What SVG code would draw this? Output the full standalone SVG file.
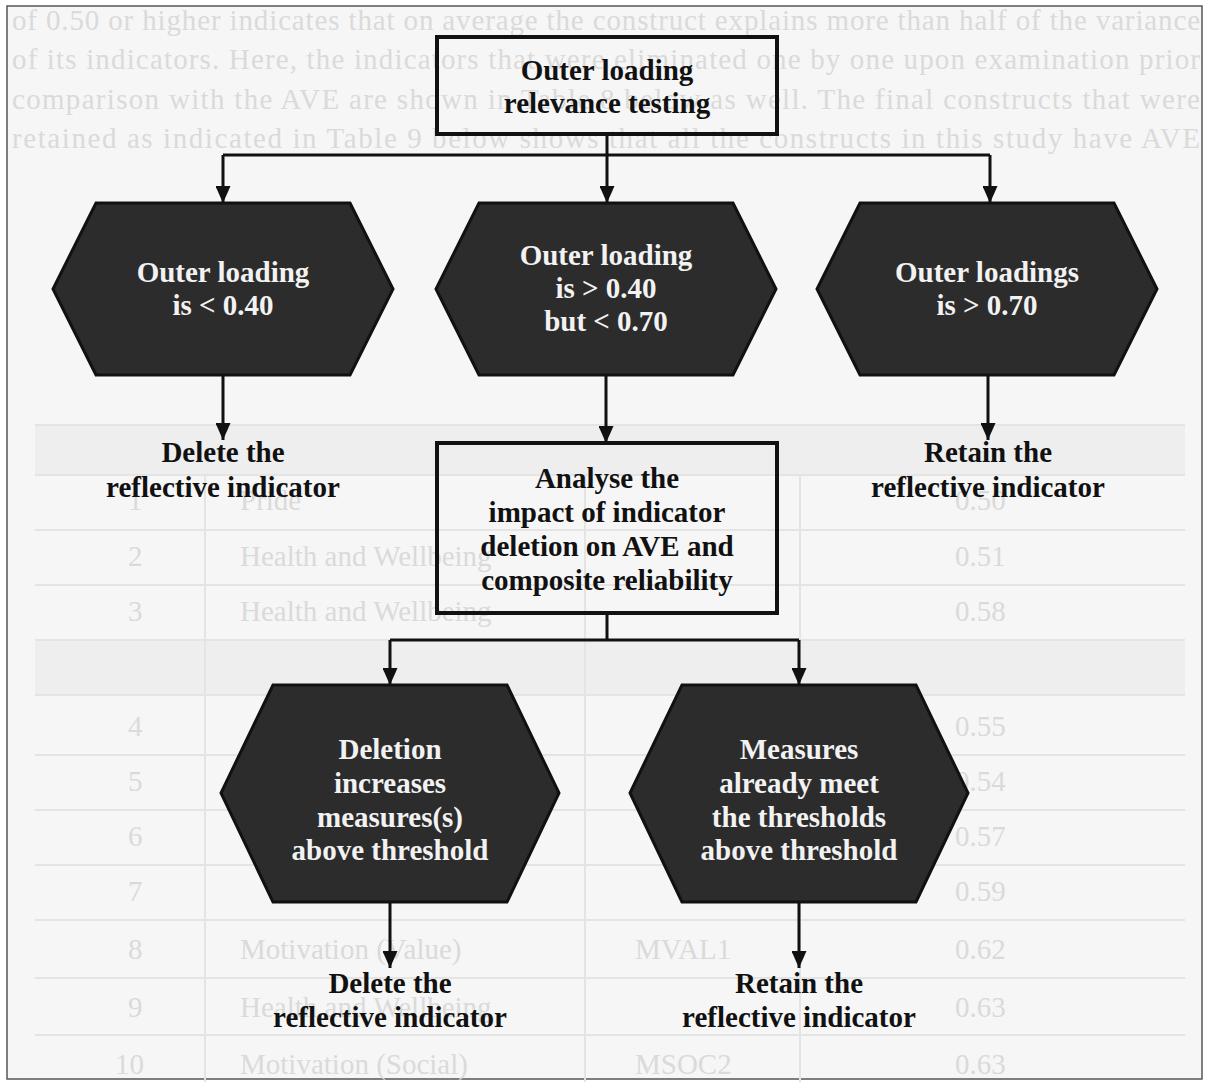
<svg xmlns="http://www.w3.org/2000/svg" width="1207" height="1082" viewBox="0 0 1207 1082">
  <style>
    .ghost { font-family: "Liberation Serif", "Times New Roman", serif; font-size: 29px; fill: #dadada; }
    .rule { stroke: #e4e4e4; stroke-width: 2; fill: none; }
    .lbl { font-family: "Liberation Serif", "Times New Roman", serif; font-size: 29px; font-weight: bold; fill: #111; text-anchor: middle; }
    .inv { font-family: "Liberation Serif", "Times New Roman", serif; font-size: 29px; font-weight: bold; fill: #f2f2f2; text-anchor: middle; }
    .box { fill: none; stroke: #111; stroke-width: 4; }
    .hex { fill: #2c2c2c; stroke: #111; stroke-width: 3; stroke-linejoin: miter; }
    .wire { fill: none; stroke: #111; stroke-width: 3; }
  </style>
  <defs>
    <marker id="head" markerUnits="userSpaceOnUse" markerWidth="17" markerHeight="15" refX="17" refY="7.5" orient="auto" viewBox="0 0 17 15">
      <path d="M0,0 L17,7.5 L0,15 z" fill="#111"/>
    </marker>
  </defs>

  <!-- page background and frame -->
  <rect x="0" y="0" width="1207" height="1082" fill="#ffffff"/>
  <rect x="7" y="6" width="1195" height="1073" fill="#f6f6f6" stroke="#555" stroke-width="1.5"/>

  <!-- faint show-through of the printed page behind the figure -->
  <g id="show-through">
    <text class="ghost" x="12" y="30" textLength="1188" lengthAdjust="spacing">of 0.50 or higher indicates that on average the construct explains more than half of the variance</text>
    <text class="ghost" x="12" y="69" textLength="1188" lengthAdjust="spacing">of its indicators. Here, the indicators that were eliminated one by one upon examination prior</text>
    <text class="ghost" x="12" y="109" textLength="1188" lengthAdjust="spacing">comparison with the AVE are shown in Table 8 below as well. The final constructs that were</text>
    <text class="ghost" x="12" y="148" textLength="1188" lengthAdjust="spacing">retained as indicated in Table 9 below shows that all the constructs in this study have AVE</text>
    <rect x="35" y="425" width="1150" height="50" fill="#eeeeee"/>
    <rect x="35" y="640" width="1150" height="55" fill="#eeeeee"/>
    <path class="rule" d="M35,425 H1185 M35,475 H1185 M35,530 H1185 M35,585 H1185 M35,640 H1185 M35,695 H1185 M35,755 H1185 M35,810 H1185 M35,865 H1185 M35,920 H1185 M35,978 H1185 M35,1035 H1185 M205,475 V1082 M585,475 V1082 M800,475 V1082"/>
    <text class="ghost" x="128" y="510">1</text>
    <text class="ghost" x="240" y="510">Pride</text>
    <text class="ghost" x="955" y="510">0.50</text>
    <text class="ghost" x="128" y="566">2</text>
    <text class="ghost" x="240" y="566">Health and Wellbeing</text>
    <text class="ghost" x="955" y="566">0.51</text>
    <text class="ghost" x="128" y="621">3</text>
    <text class="ghost" x="240" y="621">Health and Wellbeing</text>
    <text class="ghost" x="955" y="621">0.58</text>
    <text class="ghost" x="128" y="736">4</text>
    <text class="ghost" x="955" y="736">0.55</text>
    <text class="ghost" x="128" y="791">5</text>
    <text class="ghost" x="955" y="791">0.54</text>
    <text class="ghost" x="128" y="846">6</text>
    <text class="ghost" x="955" y="846">0.57</text>
    <text class="ghost" x="128" y="901">7</text>
    <text class="ghost" x="955" y="901">0.59</text>
    <text class="ghost" x="128" y="959">8</text>
    <text class="ghost" x="240" y="959">Motivation (Value)</text>
    <text class="ghost" x="635" y="959">MVAL1</text>
    <text class="ghost" x="955" y="959">0.62</text>
    <text class="ghost" x="128" y="1017">9</text>
    <text class="ghost" x="240" y="1017">Health and Wellbeing</text>
    <text class="ghost" x="955" y="1017">0.63</text>
    <text class="ghost" x="115" y="1074">10</text>
    <text class="ghost" x="240" y="1074">Motivation (Social)</text>
    <text class="ghost" x="635" y="1074">MSOC2</text>
    <text class="ghost" x="955" y="1074">0.63</text>
  </g>

  <!-- connectors -->
  <g id="connectors">
    <path class="wire" d="M607,135 V155 M223,155 H990"/>
    <path class="wire" d="M223,155 V203" marker-end="url(#head)"/>
    <path class="wire" d="M607,155 V203" marker-end="url(#head)"/>
    <path class="wire" d="M990,155 V203" marker-end="url(#head)"/>
    <path class="wire" d="M223,375 V440" marker-end="url(#head)"/>
    <path class="wire" d="M606,375 V443" marker-end="url(#head)"/>
    <path class="wire" d="M988,375 V440" marker-end="url(#head)"/>
    <path class="wire" d="M607,613 V640 M390,640 H799"/>
    <path class="wire" d="M390,640 V685" marker-end="url(#head)"/>
    <path class="wire" d="M799,640 V685" marker-end="url(#head)"/>
    <path class="wire" d="M390,902 V968" marker-end="url(#head)"/>
    <path class="wire" d="M799,902 V968" marker-end="url(#head)"/>
  </g>

  <!-- start box -->
  <g id="relevance-testing">
    <rect class="box" x="437" y="37" width="340" height="97"/>
    <text class="lbl" x="607" y="80">Outer loading</text>
    <text class="lbl" x="607" y="113">relevance testing</text>
  </g>

  <!-- loading range decisions -->
  <g id="below-040">
    <polygon class="hex" points="96,203 350,203 393,289 350,375 96,375 53,289"/>
    <text class="inv" x="223" y="282">Outer loading</text>
    <text class="inv" x="223" y="315">is &lt; 0.40</text>
  </g>
  <g id="between-040-070">
    <polygon class="hex" points="479,203 733,203 776,289 733,375 479,375 436,289"/>
    <text class="inv" x="606" y="265">Outer loading</text>
    <text class="inv" x="606" y="298">is &gt; 0.40</text>
    <text class="inv" x="606" y="331">but &lt; 0.70</text>
  </g>
  <g id="above-070">
    <polygon class="hex" points="860,203 1114,203 1157,289 1114,375 860,375 817,289"/>
    <text class="inv" x="987" y="282">Outer loadings</text>
    <text class="inv" x="987" y="315">is &gt; 0.70</text>
  </g>

  <!-- outcomes of the first split -->
  <g id="delete-first">
    <text class="lbl" x="223" y="462">Delete the</text>
    <text class="lbl" x="223" y="497">reflective indicator</text>
  </g>
  <g id="retain-first">
    <text class="lbl" x="988" y="462">Retain the</text>
    <text class="lbl" x="988" y="497">reflective indicator</text>
  </g>

  <!-- impact analysis -->
  <g id="analyse-impact">
    <rect class="box" x="437" y="443" width="340" height="170"/>
    <text class="lbl" x="607" y="488">Analyse the</text>
    <text class="lbl" x="607" y="522">impact of indicator</text>
    <text class="lbl" x="607" y="556">deletion on AVE and</text>
    <text class="lbl" x="607" y="590">composite reliability</text>
  </g>

  <!-- second split -->
  <g id="deletion-increases">
    <polygon class="hex" points="273,685 507,685 559,793 507,902 273,902 221,793"/>
    <text class="inv" x="390" y="759">Deletion</text>
    <text class="inv" x="390" y="793">increases</text>
    <text class="inv" x="390" y="827">measures(s)</text>
    <text class="inv" x="390" y="860">above threshold</text>
  </g>
  <g id="already-meet">
    <polygon class="hex" points="682,685 916,685 968,793 916,902 682,902 630,793"/>
    <text class="inv" x="799" y="759">Measures</text>
    <text class="inv" x="799" y="793">already meet</text>
    <text class="inv" x="799" y="827">the thresholds</text>
    <text class="inv" x="799" y="860">above threshold</text>
  </g>

  <!-- final outcomes -->
  <g id="delete-second">
    <text class="lbl" x="390" y="993">Delete the</text>
    <text class="lbl" x="390" y="1027">reflective indicator</text>
  </g>
  <g id="retain-second">
    <text class="lbl" x="799" y="993">Retain the</text>
    <text class="lbl" x="799" y="1027">reflective indicator</text>
  </g>
</svg>
